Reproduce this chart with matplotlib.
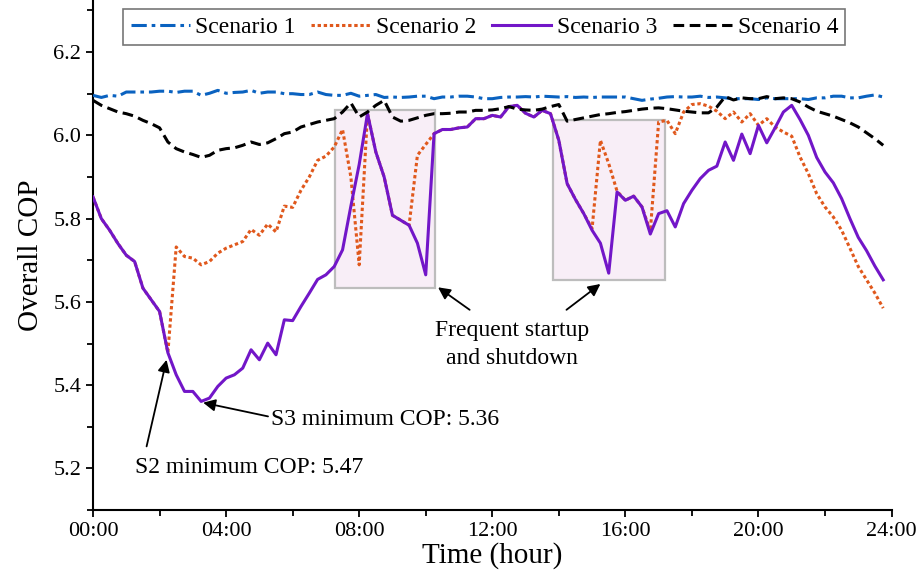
import numpy as np
import matplotlib
matplotlib.use("Agg")
import matplotlib.pyplot as plt
from matplotlib.patches import Rectangle
from matplotlib.ticker import MultipleLocator

plt.rcParams['font.family'] = ['Liberation Serif', 'DejaVu Serif']

# time axis: 15-minute samples, 00:00 .. 23:45
hours = np.arange(0, 24, 0.25)
xtick_pos = [0, 4, 8, 12, 16, 20, 24]
xtick_labels = ['00:00', '04:00', '08:00', '12:00', '16:00', '20:00', '24:00']
names = ['Scenario 1', 'Scenario 2', 'Scenario 3', 'Scenario 4']

s1 = [6.096, 6.091, 6.096, 6.094, 6.104, 6.104, 6.104, 6.104,
      6.106, 6.106, 6.103, 6.106, 6.106, 6.096, 6.101, 6.108,
      6.101, 6.103, 6.104, 6.108, 6.101, 6.104, 6.104, 6.100,
      6.100, 6.098, 6.098, 6.104, 6.098, 6.096, 6.096, 6.101,
      6.094, 6.096, 6.098, 6.091, 6.092, 6.091, 6.092, 6.094,
      6.094, 6.088, 6.092, 6.092, 6.094, 6.094, 6.092, 6.088,
      6.088, 6.091, 6.092, 6.092, 6.093, 6.092, 6.094, 6.093,
      6.092, 6.093, 6.091, 6.092, 6.091, 6.092, 6.092, 6.092,
      6.092, 6.088, 6.084, 6.087, 6.089, 6.092, 6.093, 6.092,
      6.092, 6.094, 6.091, 6.092, 6.090, 6.088, 6.088, 6.088,
      6.086, 6.090, 6.088, 6.088, 6.088, 6.088, 6.086, 6.090,
      6.090, 6.094, 6.094, 6.090, 6.090, 6.094, 6.097, 6.092]

s2 = [5.852, 5.800, 5.772, 5.740, 5.712, 5.697, 5.633, 5.605,
      5.577, 5.478, 5.732, 5.709, 5.705, 5.689, 5.697, 5.717,
      5.729, 5.737, 5.745, 5.774, 5.760, 5.787, 5.768, 5.830,
      5.827, 5.868, 5.900, 5.940, 5.950, 5.972, 6.014, 5.900,
      5.689, 6.052, 5.960, 5.900, 5.808, 5.796, 5.784, 5.952,
      5.978, 6.004, 6.014, 6.014, 6.018, 6.020, 6.040, 6.040,
      6.048, 6.044, 6.069, 6.072, 6.053, 6.044, 6.060, 6.052,
      5.988, 5.884, 5.846, 5.812, 5.776, 5.988, 5.932, 5.866,
      5.844, 5.854, 5.828, 5.770, 6.032, 6.036, 6.004, 6.056,
      6.074, 6.076, 6.070, 6.058, 6.040, 6.056, 6.032, 6.052,
      6.024, 6.040, 6.020, 6.008, 5.998, 5.948, 5.908, 5.860,
      5.828, 5.804, 5.772, 5.729, 5.685, 5.653, 5.621, 5.585]

s3 = [5.852, 5.800, 5.772, 5.740, 5.712, 5.697, 5.633, 5.605,
      5.577, 5.478, 5.425, 5.385, 5.385, 5.361, 5.369, 5.397,
      5.417, 5.425, 5.441, 5.485, 5.461, 5.501, 5.473, 5.557,
      5.555, 5.589, 5.621, 5.654, 5.665, 5.685, 5.725, 5.830,
      5.930, 6.052, 5.960, 5.900, 5.808, 5.796, 5.784, 5.741,
      5.665, 6.004, 6.014, 6.014, 6.018, 6.020, 6.040, 6.040,
      6.048, 6.044, 6.069, 6.072, 6.053, 6.044, 6.060, 6.052,
      5.988, 5.884, 5.846, 5.812, 5.772, 5.741, 5.669, 5.864,
      5.844, 5.854, 5.828, 5.763, 5.812, 5.819, 5.780, 5.836,
      5.868, 5.896, 5.916, 5.926, 5.984, 5.940, 6.003, 5.956,
      6.024, 5.982, 6.018, 6.056, 6.072, 6.038, 6.000, 5.947,
      5.912, 5.886, 5.848, 5.800, 5.755, 5.723, 5.686, 5.653]

s4 = [6.084, 6.072, 6.064, 6.056, 6.052, 6.046, 6.036, 6.028,
      6.018, 5.984, 5.968, 5.960, 5.954, 5.947, 5.952, 5.964,
      5.968, 5.970, 5.976, 5.984, 5.978, 5.982, 5.992, 6.004,
      6.008, 6.020, 6.026, 6.032, 6.036, 6.040, 6.056, 6.078,
      6.044, 6.056, 6.072, 6.084, 6.044, 6.034, 6.036, 6.042,
      6.048, 6.052, 6.052, 6.053, 6.056, 6.056, 6.060, 6.060,
      6.061, 6.064, 6.069, 6.063, 6.061, 6.060, 6.063, 6.069,
      6.074, 6.034, 6.038, 6.042, 6.046, 6.050, 6.052, 6.055,
      6.057, 6.060, 6.063, 6.065, 6.066, 6.064, 6.061, 6.058,
      6.056, 6.054, 6.054, 6.068, 6.093, 6.085, 6.090, 6.088,
      6.088, 6.093, 6.088, 6.090, 6.088, 6.080, 6.068, 6.058,
      6.052, 6.046, 6.038, 6.030, 6.020, 6.006, 5.992, 5.976]

# highlighted start/stop windows (hour start, hour end, cop low, cop high)
boxes = [(7.27, 10.27, 5.633, 6.060), (13.84, 17.2, 5.653, 6.036)]

fig = plt.figure(figsize=(9.21, 5.87), dpi=100)
ax = fig.add_axes([0.101, 0.131, 0.867, 0.869])

for x0, x1, y0, y1 in boxes:
    ax.add_patch(Rectangle((x0, y0), x1 - x0, y1 - y0, facecolor='#f8eef7',
                           edgecolor='#bdbdbd', lw=1.6, zorder=1))

lw = 2.2
ax.plot(hours, s1, color='#0a62c0', lw=lw, ls=(0, (5, 1.6, 1.2, 1.6)), label=names[0], zorder=3)
ax.plot(hours, s2, color='#e0581c', lw=lw, ls=(0, (1.1, 0.9)), label=names[1], zorder=3)
ax.plot(hours, s3, color='#7216c8', lw=lw, ls='-', label=names[2], zorder=3)
ax.plot(hours, s4, color='black', lw=lw, ls=(0, (3.5, 1.8)), label=names[3], zorder=3)

ax.set_xlim(0, 24)
ax.set_ylim(5.1, 6.325)
ax.set_xticks(xtick_pos)
ax.set_xticklabels(xtick_labels)
ax.xaxis.set_minor_locator(MultipleLocator(2))
ax.yaxis.set_minor_locator(MultipleLocator(0.1))
ax.set_yticks([5.2, 5.4, 5.6, 5.8, 6.0, 6.2])
ax.tick_params(which='both', direction='out', width=1.3, labelsize=16)
ax.tick_params(which='major', length=5)
ax.tick_params(which='minor', length=4)
for side in ['top', 'right']:
    ax.spines[side].set_visible(False)
for side in ['left', 'bottom']:
    ax.spines[side].set_linewidth(1.5)

ax.set_xlabel('Time (hour)', fontsize=21, labelpad=1)
ax.set_ylabel('Overall COP', fontsize=21, labelpad=7)

leg = ax.legend(loc='upper center', bbox_to_anchor=(0.490, 0.982), ncol=4, fontsize=17,
                frameon=True, fancybox=False, edgecolor='#555555', handlelength=2.5,
                handletextpad=0.25, columnspacing=0.65, borderpad=0.3, borderaxespad=0)
leg.get_frame().set_linewidth(1.2)

arrow = dict(arrowstyle='-|>', color='black', lw=1.3, mutation_scale=18, shrinkA=0, shrinkB=0)
ax.annotate('', xy=(3.31, 5.358), xytext=(5.26, 5.325), arrowprops=arrow)
ax.text(5.35, 5.318, 'S3 minimum COP: 5.36', fontsize=17, ha='left', va='center')
ax.annotate('', xy=(2.21, 5.461), xytext=(1.61, 5.253), arrowprops=arrow)
ax.text(1.26, 5.203, 'S2 minimum COP: 5.47', fontsize=17, ha='left', va='center')
ax.annotate('', xy=(10.37, 5.635), xytext=(11.32, 5.581), arrowprops=arrow)
ax.annotate('', xy=(15.25, 5.643), xytext=(14.23, 5.581), arrowprops=arrow)
ax.text(12.6, 5.497, 'Frequent startup\nand shutdown', fontsize=17, ha='center', va='center',
        linespacing=1.45)

fig.savefig('out.png', dpi=100)
